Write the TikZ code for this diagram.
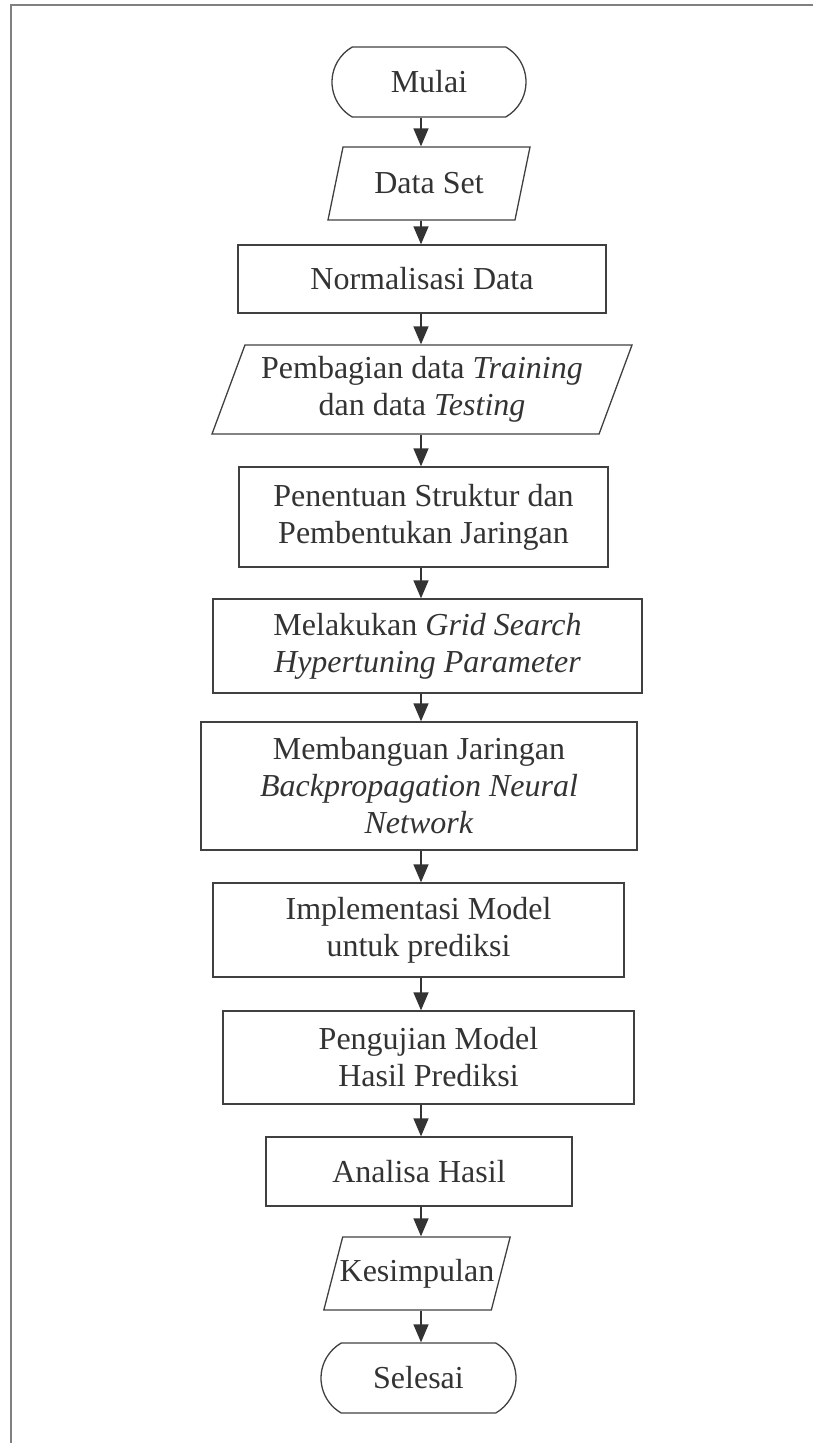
\documentclass[tikz,border=0pt]{standalone}
\usepackage{fontspec}
\setmainfont{Liberation Serif}
\usetikzlibrary{shapes.geometric,shapes.misc,arrows.meta}

\begin{document}
\begin{tikzpicture}[x=0.5pt,y=-0.5pt,
  every node/.style={font=\fontsize{16pt}{18.5pt}\selectfont, text=black!80, align=center},
  garis/.style={draw=black!75, line width=0.65pt},
  proses/.style={garis, rectangle, inner sep=2pt},
  terminal/.style={garis, rounded rectangle, rounded rectangle arc length=120, inner sep=2pt},
  io/.style={garis, trapezium, trapezium stretches body, trapezium left angle=63, trapezium right angle=117, inner sep=2pt},
  alur/.style={draw=black!80, line width=0.7pt, -{Triangle[width=7.5pt,length=9pt]}}]
\useasboundingbox (0,0) rectangle (813,1443);

% bingkai
\draw[draw=black!50, line width=1pt] (813,5.5) -- (11,5.5) -- (11,1443);
\coordinate (sumbu) at (421,0);

\node[terminal, minimum width=101pt, minimum height=35pt] (mulai) at (429,82) {Mulai};

\node[io, minimum width=101pt, minimum height=36.5pt] (dataset) at (429,183.5) {Data Set};

\node[proses, minimum width=184pt, minimum height=34pt] (normalisasi) at (422,279) {Normalisasi Data};

\node[io, trapezium left angle=66, trapezium right angle=114, minimum width=210pt, minimum height=44.5pt] (pembagian) at (422,389.5)
{Pembagian data \textit{Training}\\dan data \textit{Testing}};

\node[proses, minimum width=184.5pt, minimum height=50pt] (penentuan) at (423.5,517)
{Penentuan Struktur dan\\Pembentukan Jaringan};

\node[proses, minimum width=214.5pt, minimum height=47pt] (gridsearch) at (427.5,646)
{Melakukan \textit{Grid Search}\\\textit{Hypertuning Parameter}};

\node[proses, minimum width=218pt, minimum height=64pt] (bpnn) at (419,786)
{Membanguan Jaringan\\\textit{Backpropagation Neural}\\\textit{Network}};

\node[proses, minimum width=205.5pt, minimum height=47pt] (implementasi) at (418.5,930)
{Implementasi Model\\untuk prediksi};

\node[proses, minimum width=205.5pt, minimum height=46.5pt] (pengujian) at (428.5,1057.5)
{Pengujian Model\\Hasil Prediksi};

\node[proses, minimum width=153pt, minimum height=34.5pt] (analisa) at (419,1171.5) {Analisa Hasil};

\node[io, inner xsep=-1.5pt, minimum width=87pt, minimum height=36.5pt] (kesimpulan) at (417,1273.5) {Kesimpulan};

\node[terminal, minimum width=101.5pt, minimum height=35pt] (selesai) at (418.5,1378) {Selesai};

\draw[alur] (mulai.south -| sumbu) -- (dataset.north -| sumbu);
\draw[alur] (dataset.south -| sumbu) -- (normalisasi.north -| sumbu);
\draw[alur] (normalisasi.south -| sumbu) -- (pembagian.north -| sumbu);
\draw[alur] (pembagian.south -| sumbu) -- (penentuan.north -| sumbu);
\draw[alur] (penentuan.south -| sumbu) -- (gridsearch.north -| sumbu);
\draw[alur] (gridsearch.south -| sumbu) -- (bpnn.north -| sumbu);
\draw[alur] (bpnn.south -| sumbu) -- (implementasi.north -| sumbu);
\draw[alur] (implementasi.south -| sumbu) -- (pengujian.north -| sumbu);
\draw[alur] (pengujian.south -| sumbu) -- (analisa.north -| sumbu);
\draw[alur] (analisa.south -| sumbu) -- (kesimpulan.north -| sumbu);
\draw[alur] (kesimpulan.south -| sumbu) -- (selesai.north -| sumbu);
\end{tikzpicture}
\end{document}
